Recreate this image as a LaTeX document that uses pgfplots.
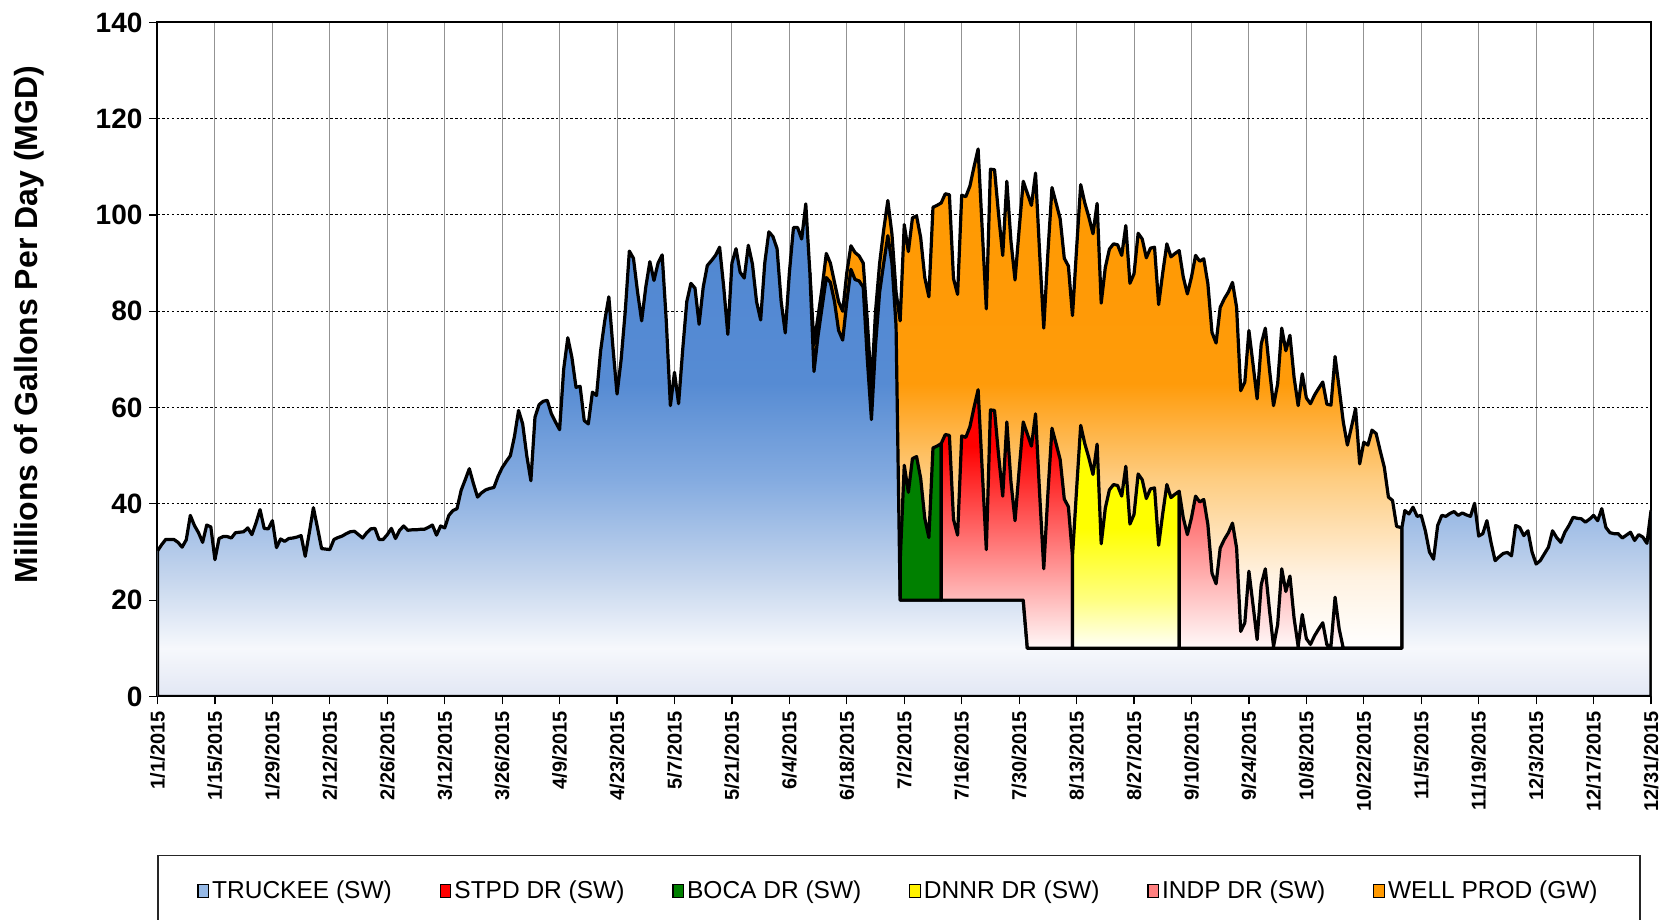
\documentclass[border=0pt]{standalone}
\usepackage{fontspec}
\setmainfont{Liberation Sans}
\usepackage{pgfplots}
\pgfplotsset{compat=1.18}

\definecolor{bl0}{RGB}{226,231,244}
\definecolor{bl1}{RGB}{246,248,252}
\definecolor{bl2}{RGB}{196,213,237}
\definecolor{bl3}{RGB}{132,171,224}
\definecolor{bl4}{RGB}{86,139,211}
\definecolor{bl5}{RGB}{80,135,210}
\pgfdeclareverticalshading{truckeeshade}{100bp}{color(0bp)=(bl0); color(25bp)=(bl0); color(29.9bp)=(bl1); color(37.2bp)=(bl2); color(47bp)=(bl3); color(56.8bp)=(bl4); color(75bp)=(bl5); color(100bp)=(bl5)}

\definecolor{or0}{RGB}{255,255,255}
\definecolor{or1}{RGB}{255,242,225}
\definecolor{or2}{RGB}{254,205,130}
\definecolor{or3}{RGB}{255,155,10}
\definecolor{or4}{RGB}{255,153,0}
\pgfdeclareverticalshading{wellshade}{100bp}{color(0bp)=(or0); color(25bp)=(or0); color(32.2bp)=(or1); color(41.9bp)=(or2); color(51.5bp)=(or3); color(75bp)=(or4); color(100bp)=(or4)}

\definecolor{rd0}{RGB}{255,248,248}
\definecolor{rd1}{RGB}{255,0,0}
\pgfdeclareverticalshading{stpdshade}{100bp}{color(0bp)=(rd0); color(25bp)=(rd0); color(64.1bp)=(rd1); color(100bp)=(rd1)}

\definecolor{ye0}{RGB}{255,255,250}
\definecolor{yeh}{RGB}{255,255,130}
\definecolor{ye1}{RGB}{255,255,0}
\pgfdeclareverticalshading{dnnrshade}{100bp}{color(0bp)=(ye0); color(25bp)=(ye0); color(35.8bp)=(yeh); color(52bp)=(ye1); color(100bp)=(ye1)}

\definecolor{pk0}{RGB}{255,250,250}
\definecolor{pk1}{RGB}{255,88,88}
\pgfdeclareverticalshading{indpshade}{100bp}{color(0bp)=(pk0); color(25bp)=(pk0); color(75bp)=(pk1); color(100bp)=(pk1)}

\definecolor{bocagreen}{RGB}{0,128,0}
\definecolor{legblue}{RGB}{150,185,230}
\definecolor{legpink}{RGB}{255,128,128}
\definecolor{legorange}{RGB}{255,153,0}

\begin{document}
\begin{tikzpicture}
\begin{axis}[
  scale only axis, width=746.75pt, height=337pt,
  at={(0pt,0pt)}, anchor=south west,
  xmin=0, xmax=364, ymin=0, ymax=140,
  xtick={0,14,...,364},
  xticklabels={1/1/2015,1/15/2015,1/29/2015,2/12/2015,2/26/2015,3/12/2015,3/26/2015,4/9/2015,4/23/2015,5/7/2015,5/21/2015,6/4/2015,6/18/2015,7/2/2015,7/16/2015,7/30/2015,8/13/2015,8/27/2015,9/10/2015,9/24/2015,10/8/2015,10/22/2015,11/5/2015,11/19/2015,12/3/2015,12/17/2015,12/31/2015},
  ytick={0,20,...,140},
  tick pos=left, tick align=outside, major tick length=4pt,
  every tick/.style={black, line width=0.6pt},
  grid=major,
  x grid style={draw=gray!85, line width=0.5pt},
  y grid style={draw=black, line width=0.5pt, dash pattern=on 1.2pt off 1.2pt},
  axis line style={black, line width=1pt},
  /pgf/number format/assume math mode=true,
  yticklabel style={font=\fontsize{14}{16}\selectfont\bfseries},
  xticklabel style={font=\fontsize{10}{12}\selectfont\bfseries, rotate=90, anchor=east},
  ylabel={Millions of Gallons Per Day (MGD)},
  ylabel style={font=\fontsize{16}{19}\selectfont\bfseries, at={(axis description cs:-0.0862,0.5515)}, anchor=center},
  legend columns=6,
  legend cell align=left,
  legend style={at={(axis description cs:0,-0.2353)}, anchor=north west, draw=black!85, line width=0.75pt, minimum width=740.75pt, minimum height=35pt, nodes={minimum width=0pt, minimum height=0pt, inner xsep=1.5pt, inner ysep=1pt}, font=\fontsize{12.25}{14}\selectfont, /tikz/every even column/.append style={column sep=22.4pt}},
  legend image code/.code={\draw[#1, draw=black, line width=0.6pt] (0pt,-3.3pt) rectangle (5.3pt,3.3pt);},
  no markers,
]
\addlegendimage{fill=legblue}
\addlegendentry{TRUCKEE (SW)}
\addlegendimage{fill=red}
\addlegendentry{STPD DR (SW)}
\addlegendimage{fill=bocagreen}
\addlegendentry{BOCA DR (SW)}
\addlegendimage{fill=yellow}
\addlegendentry{DNNR DR (SW)}
\addlegendimage{fill=legpink}
\addlegendentry{INDP DR (SW)}
\addlegendimage{fill=legorange}
\addlegendentry{WELL PROD (GW)}

% WELL PROD (GW): total flow on top, days 159-303
\addplot[forget plot, shade, shading=wellshade, draw=black, line width=1.6pt, line join=round] table {
x y
159 10
159 88.0
160 73
161 79
162 85
163 92
164 90
165 86
166 82
167 80
168 88
169 93.6
170 92.2
171 91.5
172 90
173 78
174 64
175 80
176 90
177 97
178 103
179 96
180 84
181 78
182 98
183 92.4
184 99.4
185 99.8
186 95.3
187 87
188 83
189 101.6
190 102
191 102.5
192 104.4
193 104.2
194 86.8
195 83.5
196 104.1
197 103.8
198 106
199 110
200 113.7
201 97
202 80.5
203 109.5
204 109.4
205 100
206 91.6
207 107
208 94.6
209 86.5
210 97
211 107
212 104.5
213 102
214 108.7
215 92
216 76.5
217 92
218 105.7
219 102.5
220 99.2
221 91
222 89.4
223 79.1
224 93
225 106.3
226 102.5
227 99.5
228 96.1
229 102.4
230 81.7
231 89.1
232 92.9
233 94
234 93.8
235 91.6
236 97.8
237 85.8
238 87.8
239 96.2
240 95
241 91.1
242 93.1
243 93.3
244 81.4
245 88
246 94
247 91.3
248 92
249 92.6
250 87.1
251 83.6
252 87.1
253 91.6
254 90.4
255 90.9
256 85.7
257 75.6
258 73.4
259 80.8
260 82.6
261 84
262 86
263 80.8
264 63.5
265 65.3
266 76
267 69
268 61.8
269 73.2
270 76.5
271 68
272 60.4
273 64.9
274 76.5
275 71.8
276 75
277 66.3
278 60.4
279 67
280 62
281 60.8
282 62.6
283 64
284 65.3
285 60.7
286 60.5
287 70.6
288 64
289 57
290 52.2
291 56
292 59.8
293 48.3
294 52.8
295 52.2
296 55.3
297 54.6
298 51
299 47.6
300 41.4
301 40.7
302 35.3
303 35.1
303.3 35.1
303.3 10
} -- cycle;

% TRUCKEE (SW)
\addplot[forget plot, shade, shading=truckeeshade, draw=black, line width=1.6pt, line join=round] table {
x y
0 0
0 30.2
1 31.5
2 32.6
3 32.6
4 32.6
5 32.0
6 31.0
7 32.5
8 37.6
9 35.5
10 34.0
11 32.0
12 35.6
13 35.2
14 28.4
15 32.8
16 33.2
17 33.2
18 32.9
19 34.0
20 34.1
21 34.2
22 35.0
23 33.6
24 36.0
25 38.8
26 34.9
27 34.8
28 36.5
29 30.9
30 32.7
31 32.2
32 32.8
33 32.9
34 33.1
35 33.4
36 29.1
37 34.0
38 39.2
39 35.0
40 30.7
41 30.6
42 30.5
43 32.6
44 33.0
45 33.3
46 33.8
47 34.2
48 34.3
49 33.6
50 32.9
51 34.0
52 34.8
53 34.9
54 32.6
55 32.6
56 33.6
57 34.9
58 32.8
59 34.5
60 35.4
61 34.5
62 34.6
63 34.6
64 34.7
65 34.7
66 35.1
67 35.6
68 33.5
69 35.4
70 35.0
71 37.6
72 38.6
73 39.0
74 42.8
75 45.0
76 47.3
77 44.2
78 41.4
79 42.3
80 42.9
81 43.2
82 43.4
83 45.7
84 47.5
85 48.8
86 50.0
87 54.0
88 59.4
89 56.6
90 50.0
91 44.8
92 58.0
93 60.6
94 61.3
95 61.5
96 58.7
97 57.0
98 55.4
99 68.0
100 74.5
101 70.4
102 64.2
103 64.4
104 57.3
105 56.6
106 63.2
107 62.5
108 71.8
109 78.0
110 83.0
111 72.5
112 62.8
113 70.0
114 80.0
115 92.5
116 91.0
117 84.0
118 78.0
119 85.0
120 90.3
121 86.4
122 90.0
123 91.7
124 78.0
125 60.4
126 67.3
127 60.8
128 72.0
129 82.0
130 85.8
131 84.8
132 77.3
133 85.0
134 89.5
135 90.5
136 91.6
137 93.3
138 85.0
139 75.2
140 90.0
141 93.0
142 88.1
143 86.9
144 93.7
145 89.8
146 82.0
147 78.2
148 90.0
149 96.5
150 95.5
151 93.0
152 82.0
153 75.5
154 88.0
155 97.4
156 97.4
157 95.0
158 102.3
159 88.0
160 67.5
161 75.0
162 81.0
163 87.0
164 86.0
165 82.0
166 76.0
167 74.0
168 82.0
169 88.7
170 86.6
171 86.3
172 85.0
173 70.0
174 57.5
175 73.0
176 84.0
177 90.0
178 95.7
179 90.0
180 77.0
181 20
211 20
212 10
303.3 10
303.3 35.1
304 38.6
305 37.9
306 39.3
307 37.4
308 37.6
309 34.4
310 30.0
311 28.5
312 35.5
313 37.6
314 37.4
315 38.0
316 38.4
317 37.6
318 38.1
319 37.7
320 37.4
321 40.1
322 33.3
323 33.8
324 36.5
325 32.0
326 28.2
327 29.0
328 29.7
329 29.9
330 29.2
331 35.5
332 35.1
333 33.4
334 34.4
335 30.0
336 27.5
337 28.2
338 29.6
339 31.0
340 34.4
341 33.0
342 32.0
343 34.1
344 35.5
345 37.2
346 37.0
347 36.9
348 36.2
349 36.8
350 37.6
351 36.5
352 39.0
353 35.1
354 34.0
355 33.8
356 33.8
357 32.9
358 33.5
359 34.1
360 32.4
361 33.6
362 33.1
363 31.8
364 38.6
364 0
} -- cycle;

% BOCA DR (SW)
\addplot[forget plot, fill=bocagreen, draw=black, line width=1.6pt, line join=round] table {
x y
181 20
181 28
182 48
183 42.4
184 49.4
185 49.8
186 45.3
187 37
188 33
189 51.6
190 52
191 52.5
191 20
} -- cycle;

% STPD DR (SW)
\addplot[forget plot, shade, shading=stpdshade, draw=black, line width=1.6pt, line join=round] table {
x y
191 20
191 52.5
192 54.4
193 54.2
194 36.8
195 33.5
196 54.1
197 53.8
198 56
199 60
200 63.7
201 47
202 30.5
203 59.5
204 59.4
205 50
206 41.6
207 57
208 44.6
209 36.5
210 47
211 57
212 54.5
213 52
214 58.7
215 42
216 26.5
217 42
218 55.7
219 52.5
220 49.2
221 41
222 39.4
223 29.1
223 10
212 10
211 20
} -- cycle;

% DNNR DR (SW)
\addplot[forget plot, shade, shading=dnnrshade, draw=black, line width=1.6pt, line join=round] table {
x y
223 10
223 29.1
224 43
225 56.3
226 52.5
227 49.5
228 46.1
229 52.4
230 31.7
231 39.1
232 42.9
233 44
234 43.8
235 41.6
236 47.8
237 35.8
238 37.8
239 46.2
240 45
241 41.1
242 43.1
243 43.3
244 31.4
245 38
246 44
247 41.3
248 42
249 42.6
249 10
} -- cycle;

% INDP DR (SW)
\addplot[forget plot, shade, shading=indpshade, draw=black, line width=1.6pt, line join=round] table {
x y
249 10
249 42.6
250 37.1
251 33.6
252 37.1
253 41.6
254 40.4
255 40.9
256 35.7
257 25.6
258 23.4
259 30.8
260 32.6
261 34
262 36
263 30.8
264 13.5
265 15.3
266 26
267 19
268 11.8
269 23.2
270 26.5
271 18
272 10.4
273 14.9
274 26.5
275 21.8
276 25
277 16.3
278 10.4
279 17
280 12
281 10.8
282 12.6
283 14
284 15.3
285 10.7
286 10.5
287 20.6
288 14
289 10
} -- cycle;
\end{axis}
\pgfresetboundingbox
\useasboundingbox (-78.75pt,-111.8pt) rectangle (755.75pt,348.2pt);
\end{tikzpicture}
\end{document}
